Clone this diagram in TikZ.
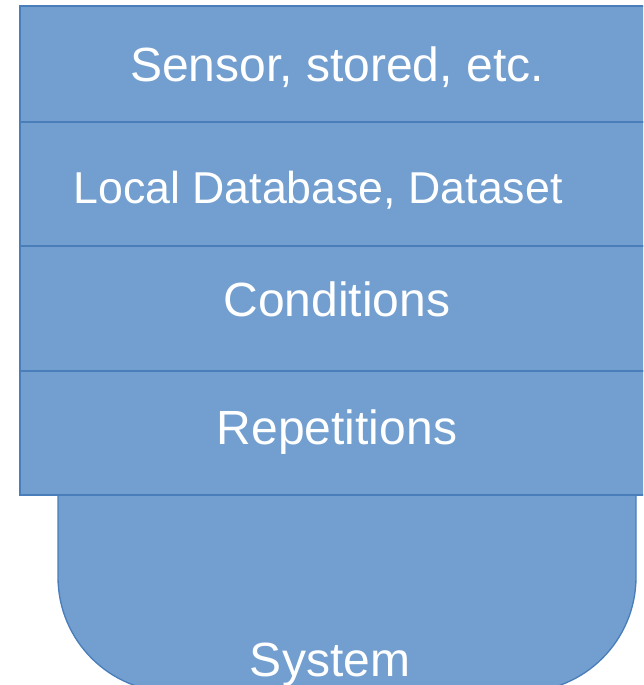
\documentclass[tikz,border=0pt]{standalone}
\usepackage{fontspec}
\setmainfont{Liberation Sans}
\usepackage{tikz}
\usetikzlibrary{positioning}
\definecolor{layerfill}{RGB}{114,159,207}
\definecolor{layerline}{RGB}{74,126,187}
\tikzset{
  layer/.style={fill=layerfill, draw=layerline, line width=1pt},
  layertxt/.style={text=white, anchor=base, inner sep=0pt,
    font=\fontsize{36}{42}\selectfont},
}

\begin{document}
\begin{tikzpicture}[x=0.75pt, y=-0.75pt]
    \useasboundingbox (0,0) rectangle (643,685);
    \begin{scope}
      \clip (0,0) rectangle (643,685);
      % base block with rounded bottom, drawn behind the stack
      \draw[layer] (58,480) -- (58,577) arc[start angle=180, end angle=90, radius=115]
        -- (521,692) arc[start angle=90, end angle=0, radius=115] -- (636,480);
      % stacked layers
      \foreach \top/\bot in {6/122, 122/246, 246/371, 371/495} {
        \draw[layer] (20,\top) rectangle (660,\bot);
      }
    \end{scope}
    \node[layertxt] (sensor) at (337,82) {Sensor, stored, etc.};
    \node[layertxt, font=\fontsize{33.5}{40}\selectfont] (localdb) at (318,203)
      {Local Database, Dataset};
    \node[layertxt] (cond) at (337,316) {Conditions};
    \node[layertxt] (reps) at (337,444) {Repetitions};
    \node[layertxt] (sys) at (330,676) {System};
  \end{tikzpicture}
\end{document}
